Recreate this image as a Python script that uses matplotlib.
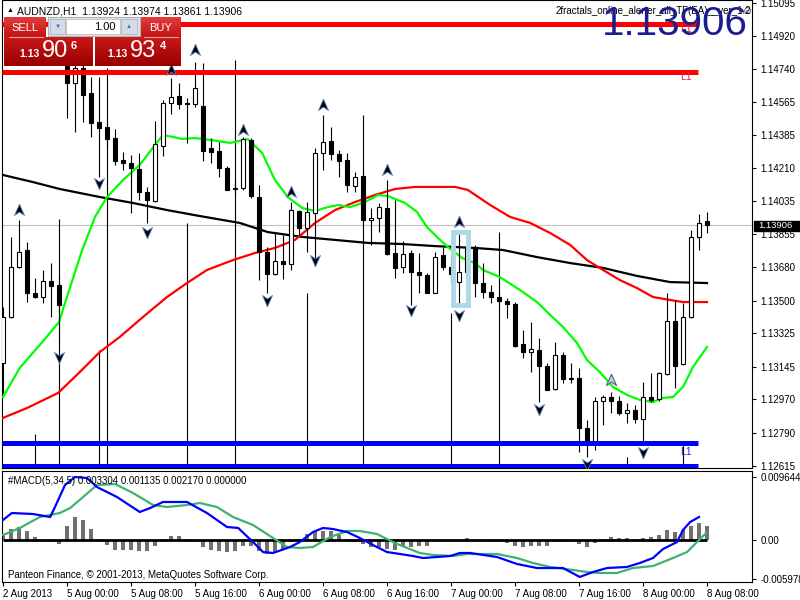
import numpy as np
import matplotlib
matplotlib.use("Agg")
import matplotlib.pyplot as plt
from matplotlib.patches import Rectangle
from matplotlib.path import Path
from matplotlib.colors import LinearSegmentedColormap

plt.rcParams['font.family'] = ['Liberation Sans', 'DejaVu Sans']

# AUDNZD H1, bars from 2 Aug 2013 16:00 to 8 Aug 08:00
opens = [1.13165, 1.13412, 1.13680, 1.13771, 1.13541, 1.13519, 1.13605, 1.13583, 1.14757, 1.14666,
         1.14747, 1.14613, 1.14457, 1.14430, 1.14371, 1.14253, 1.14237, 1.14205, 1.14082, 1.14034,
         1.14328, 1.14559, 1.14596, 1.14559, 1.14554, 1.14543, 1.14318, 1.14302, 1.14211, 1.14103,
         1.14103, 1.14361, 1.14055, 1.13760, 1.13642, 1.13712, 1.13696, 1.13980, 1.13889, 1.13969,
         1.14291, 1.14355, 1.14286, 1.14253, 1.14114, 1.14168, 1.13932, 1.13943, 1.13996, 1.13755,
         1.13680, 1.13755, 1.13653, 1.13637, 1.13541, 1.13744, 1.13680, 1.13599, 1.13653, 1.13787,
         1.13594, 1.13546, 1.13519, 1.13498, 1.13482, 1.13267, 1.13224, 1.13235, 1.13149, 1.13026,
         1.13208, 1.13085, 1.13085, 1.12817, 1.12742, 1.12962, 1.12983, 1.12962, 1.12897, 1.12913,
         1.12865, 1.12983, 1.12972, 1.13106, 1.13390, 1.13160, 1.13412, 1.13841, 1.13924]
highs = [1.13465, 1.13841, 1.13932, 1.13814, 1.13621, 1.13664, 1.13701, 1.13637, 1.14789, 1.14800,
         1.14779, 1.14698, 1.14698, 1.14468, 1.14420, 1.14296, 1.14280, 1.14291, 1.14109, 1.14462,
         1.14575, 1.14693, 1.14666, 1.14586, 1.14779, 1.14773, 1.14371, 1.14350, 1.14221, 1.14146,
         1.14377, 1.14371, 1.14119, 1.13787, 1.13862, 1.13851, 1.14028, 1.13985, 1.14028, 1.14318,
         1.14495, 1.14430, 1.14307, 1.14291, 1.14189, 1.14200, 1.13996, 1.14023, 1.14146, 1.14039,
         1.13819, 1.13771, 1.13755, 1.13648, 1.13760, 1.13787, 1.13744, 1.13857, 1.13846, 1.13798,
         1.13701, 1.13583, 1.13557, 1.13514, 1.13492, 1.13342, 1.13385, 1.13299, 1.13165, 1.13278,
         1.13224, 1.13165, 1.13139, 1.12860, 1.12983, 1.12994, 1.13010, 1.12988, 1.12951, 1.12940,
         1.13063, 1.13112, 1.13117, 1.13541, 1.13503, 1.13487, 1.13878, 1.13964, 1.13974]
lows = [1.13005, 1.13407, 1.13675, 1.13492, 1.13514, 1.13487, 1.13412, 1.13262, 1.14479, 1.14403,
        1.14457, 1.14377, 1.14162, 1.14318, 1.14227, 1.14200, 1.13969, 1.14039, 1.13916, 1.14028,
        1.14275, 1.14500, 1.14527, 1.14345, 1.14537, 1.14248, 1.14237, 1.14162, 1.14093, 1.14066,
        1.14093, 1.14050, 1.13610, 1.13541, 1.13637, 1.13616, 1.13664, 1.13851, 1.13760, 1.13707,
        1.14200, 1.14253, 1.14162, 1.14082, 1.14082, 1.13905, 1.13798, 1.13867, 1.13744, 1.13621,
        1.13648, 1.13476, 1.13541, 1.13541, 1.13541, 1.13664, 1.13599, 1.13476, 1.13610, 1.13519,
        1.13514, 1.13487, 1.13476, 1.13407, 1.13251, 1.13192, 1.13117, 1.12956, 1.13021, 1.13021,
        1.13058, 1.13058, 1.12688, 1.12661, 1.12699, 1.12833, 1.12897, 1.12887, 1.12844, 1.12844,
        1.12726, 1.12956, 1.12962, 1.13101, 1.13031, 1.13155, 1.13407, 1.13771, 1.13861]
closes = [1.13412, 1.13680, 1.13760, 1.13541, 1.13519, 1.13605, 1.13578, 1.13476, 1.14666, 1.14747,
          1.14602, 1.14452, 1.14425, 1.14366, 1.14248, 1.14237, 1.14211, 1.14082, 1.14039, 1.14339,
          1.14559, 1.14591, 1.14554, 1.14554, 1.14639, 1.14302, 1.14296, 1.14211, 1.14093, 1.14098,
          1.14366, 1.14060, 1.13760, 1.13642, 1.13712, 1.13696, 1.13985, 1.13889, 1.13975, 1.14291,
          1.14350, 1.14286, 1.14248, 1.14119, 1.14162, 1.13932, 1.13943, 1.14001, 1.13750, 1.13675,
          1.13750, 1.13653, 1.13637, 1.13541, 1.13733, 1.13680, 1.13642, 1.13653, 1.13782, 1.13594,
          1.13546, 1.13519, 1.13498, 1.13482, 1.13256, 1.13224, 1.13240, 1.13149, 1.13021, 1.13208,
          1.13080, 1.13080, 1.12817, 1.12742, 1.12962, 1.12983, 1.12962, 1.12897, 1.12913, 1.12865,
          1.12983, 1.12967, 1.13112, 1.13390, 1.13149, 1.13412, 1.13841, 1.13916, 1.13906]

# moving averages (bar position, price)
ma_fast_x = [0, 2.1, 4.6, 7, 8.4, 9.9, 11.5, 13, 15, 17.1, 19, 20, 21.25, 22.4, 24, 25.9, 28.4, 30.6,
             32.4, 34, 35.6, 37.4, 39, 40.6, 41.9, 43.4, 45.25, 46.9, 48.1, 50.25, 51.75, 53, 54.4,
             55.6, 57.4, 59, 60, 62.1, 64.6, 66.75, 68.4, 70, 71.75, 73, 74.6, 76.25, 78, 79.6,
             81.25, 82.5, 83.75, 85, 86.25, 88]
ma_fast = [1.12983, 1.13139, 1.13262, 1.13385, 1.13573, 1.13771, 1.13948, 1.14055, 1.14146, 1.14227,
           1.14334, 1.14387, 1.14377, 1.14366, 1.14371, 1.14361, 1.14345, 1.14366, 1.14291, 1.14146,
           1.14055, 1.13996, 1.13980, 1.14001, 1.14012, 1.14001, 1.14028, 1.14066, 1.14060, 1.14023,
           1.13975, 1.13894, 1.13835, 1.13787, 1.13728, 1.13701, 1.13664, 1.13626, 1.13557, 1.13492,
           1.13423, 1.13358, 1.13273, 1.13181, 1.13117, 1.13037, 1.12994, 1.12967, 1.12956, 1.12978,
           1.12983, 1.13037, 1.13144, 1.13251]
ma_mid_x = [0, 3, 6.9, 9.6, 12.1, 14.6, 17.5, 20.5, 23, 25.5, 28.75, 31.5, 34, 36.5, 39, 41.5, 44,
            46.5, 49, 51.5, 54, 56.5, 58.1, 60.9, 63.4, 65.9, 68.4, 70.9, 73, 75, 77.1, 79.25,
            81.25, 83.4, 85, 88]
ma_mid = [1.12871, 1.12924, 1.13005, 1.13117, 1.13224, 1.13305, 1.13412, 1.13519, 1.13594, 1.13664,
          1.13717, 1.13755, 1.13782, 1.13825, 1.13916, 1.13985, 1.14028, 1.14066, 1.14098, 1.14109,
          1.14109, 1.14109, 1.14093, 1.14012, 1.13948, 1.13916, 1.13862, 1.13798, 1.13717, 1.13664,
          1.13610, 1.13567, 1.13519, 1.13503, 1.13492, 1.13492]
ma_slow_x = [0, 3.75, 7.1, 12.1, 16.25, 20.5, 24.6, 29.6, 33.1, 37.4, 41.5, 45.6, 49.9, 54, 59,
             62.5, 66.75, 70.9, 75, 79.25, 83.4, 88]
ma_slow = [1.14173, 1.14135, 1.14098, 1.14055, 1.14023, 1.13985, 1.13953, 1.13916, 1.13867, 1.13841,
           1.13825, 1.13809, 1.13803, 1.13792, 1.13782, 1.13771, 1.13733, 1.13701, 1.13675, 1.13632,
           1.13599, 1.13594]

# fractals
up_bars = [2, 21, 24, 30, 36, 40, 48, 57]
up_prices = [1.13985, 1.14736, 1.14843, 1.14414, 1.14082, 1.14548, 1.14200, 1.13921]
up_open_bars = [76]
up_open_prices = [1.13074]
down_bars = [7, 12, 18, 33, 39, 51, 57, 67, 73, 80]
down_prices = [1.13198, 1.14130, 1.13867, 1.13503, 1.13717, 1.13449, 1.13423, 1.12919, 1.12624, 1.12688]

# thin vertical lines drawn by the EA
vline_bars = [4, 7, 12, 13, 23, 29, 38, 45, 56, 62, 78, 85]
vline_tops = [1.12785, 1.13937, 1.13235, 1.14747, 1.13916, 1.14789, 1.13541, 1.14495, 1.13433,
              1.13867, 1.12661, 1.12726]

# levels
red_levels = [1.14982, 1.14725]
blue_levels = [1.12737, 1.12613]
bid = 1.13906
box_bars = (56.2, 58.1)
box_prices = (1.13474, 1.13865)

price_ticks = [1.15095, 1.14920, 1.14740, 1.14565, 1.14385, 1.14210, 1.14035, 1.13855, 1.13680,
               1.13500, 1.13325, 1.13145, 1.12970, 1.12790, 1.12615]

# MACD(5,34,5)
macd_hist = [0.00081, 0.00168, 0.00204, 0.00133, 0.00041, 0.0, -0.00035, -0.00061, 0.00219, 0.00357,
             0.00311, 0.00173, 0.00015, -0.00077, -0.00149, -0.00153, -0.00153, -0.00164, -0.00173, -0.00096,
             0.00015, 0.00066, 0.00061, 0.00015, 0.0, -0.00103, -0.00149, -0.00173, -0.00179, -0.00164,
             -0.00087, -0.00087, -0.00164, -0.00214, -0.00188, -0.00138, -0.00035, 0.00015, 0.00092, 0.00142,
             0.00133, 0.00133, 0.00081, 0.00015, -0.00035, -0.00061, -0.00103, -0.00103, -0.00138, -0.00153,
             -0.00087, -0.00112, -0.00087, -0.00087, -0.00008, 0.0, 0.0, 0.0, 0.00031, 0.0,
             0.0, -0.00035, -0.00035, -0.00051, -0.00087, -0.00103, -0.00087, -0.00087, -0.00087, -0.00035,
             -0.00026, 0.0, -0.00061, -0.00103, -0.00046, 0.00015, 0.00051, 0.00031, 0.00031, 0.00015,
             0.00031, 0.00051, 0.00081, 0.00153, 0.00118, 0.00153, 0.00219, 0.00256, 0.00219]
macd_x = [0, 1.1, 3.75, 5.9, 6.5, 7.75, 9, 10.5, 11.75, 14.25, 17.1, 18.4, 20, 23, 25.5, 28, 29.4,
          31.25, 32.5, 33.75, 35.9, 37.1, 38.75, 40, 41.25, 43, 44.6, 46.25, 48, 49.6, 51.25, 52.5,
          55.9, 57.1, 58.4, 61.75, 64.25, 66.75, 70, 72.1, 73.75, 75.5, 78, 79.6, 81.25, 82.5,
          84.25, 85, 85.9, 87]
macd_main = [0.00306, 0.00413, 0.00398, 0.00352, 0.00505, 0.00842, 0.00965, 0.00949, 0.00811, 0.00658,
             0.00429, 0.00490, 0.00582, 0.00582, 0.00413, 0.00199, 0.00184, -0.00031, -0.00184, -0.00199,
             -0.00107, -0.00031, 0.00122, 0.00184, 0.00168, 0.00122, 0.00031, -0.00077, -0.00184, -0.00214,
             -0.00245, -0.00276, -0.00245, -0.00199, -0.00199, -0.00260, -0.00367, -0.00429, -0.00429,
             -0.00566, -0.00490, -0.00429, -0.00413, -0.00352, -0.00276, -0.00138, -0.00031, 0.00153,
             0.00276, 0.00352]
signal_x = [0, 2.1, 4.6, 7.1, 8.4, 10, 11.75, 14, 16.25, 18.75, 20.5, 23, 24.6, 26.75, 28.75, 31.25,
            33.75, 35.5, 37.1, 38.75, 40.9, 43, 44.6, 46.75, 48.75, 49.6, 52.1, 53.75, 56.25, 58,
            61.75, 64.25, 66.25, 68.4, 71.25, 73, 74.6, 76.75, 78.75, 81.25, 83.75, 85.5, 86.75, 87.9]
macd_signal = [0.00077, 0.00184, 0.00352, 0.00413, 0.00490, 0.00658, 0.00842, 0.00857, 0.00720, 0.00536,
               0.00505, 0.00536, 0.00566, 0.00505, 0.00352, 0.00230, 0.00031, -0.00107, -0.00122, -0.00107,
               0.00046, 0.00138, 0.00138, 0.00092, -0.00031, -0.00077, -0.00199, -0.00230, -0.00245, -0.00214,
               -0.00214, -0.00276, -0.00352, -0.00413, -0.00459, -0.00490, -0.00505, -0.00505, -0.00429,
               -0.00398, -0.00276, -0.00184, -0.00031, 0.00107]
macd_ticks = [0.009644, 0.0, -0.005978]
macd_tick_labels = ['0.009644', '0.00', '-0.005978']

time_labels = ['2 Aug 2013', '5 Aug 00:00', '5 Aug 08:00', '5 Aug 16:00', '6 Aug 00:00', '6 Aug 08:00',
               '6 Aug 16:00', '7 Aug 00:00', '7 Aug 08:00', '7 Aug 16:00', '8 Aug 00:00', '8 Aug 08:00']


W, H = 800, 600
fig = plt.figure(figsize=(8, 6), dpi=100)


def px_axes(x0, y0, x1, y1, **kw):
    return fig.add_axes([x0 / W, 1 - y1 / H, (x1 - x0) / W, (y1 - y0) / H], **kw)


ax = px_axes(2, 0, 752, 468)
am = px_axes(2, 471, 752, 582)
xlim = (-0.125, 93.625)
ylo, yhi = 1.126025, 1.15111

for a in (ax, am):
    a.set_xlim(*xlim)
    for s in a.spines.values():
        s.set_linewidth(0.8)
    a.yaxis.tick_right()
    a.tick_params(axis='y', length=3, width=0.8, labelsize=7, pad=3)

# --- main chart ---
ax.set_ylim(ylo, yhi)
ax.set_yticks(price_ticks)
ax.set_yticklabels(['%.5f' % p for p in price_ticks])
ax.set_xticks([])

n = len(opens)
idx = np.arange(n)
o, h, l, c = (np.array(v) for v in (opens, highs, lows, closes))

ax.axhline(bid, color='#c0c0c0', lw=0.8, zorder=1)
ax.vlines(vline_bars, ylo, vline_tops, color='black', lw=0.8, zorder=2)
ax.plot(ma_slow_x, ma_slow, color='black', lw=1.6, zorder=3)
ax.plot(ma_mid_x, ma_mid, color='#ff0000', lw=1.6, zorder=3)
ax.plot(ma_fast_x, ma_fast, color='#00ff00', lw=1.6, zorder=3)

ax.vlines(idx, l, h, color='black', lw=0.8, zorder=4)
bull = c >= o
ax.bar(idx[bull], np.abs(c - o)[bull], bottom=np.minimum(o, c)[bull], width=0.6,
       color='white', edgecolor='black', lw=0.8, zorder=5)
ax.bar(idx[~bull], np.abs(c - o)[~bull], bottom=np.minimum(o, c)[~bull], width=0.6,
       color='black', edgecolor='black', lw=0.8, zorder=5)

ax.hlines(red_levels, -0.1, 86.9, color='#ff0000', lw=3.6, zorder=6)
ax.hlines(blue_levels, -0.1, 86.9, color='#0000ff', lw=3.6, zorder=6)
ax.add_patch(Rectangle((box_bars[0], box_prices[0]), box_bars[1] - box_bars[0],
                       box_prices[1] - box_prices[0], fill=False, ec='#add8e6', lw=3.5, zorder=7))

ax.text(84.6, 1.14956, 'L1', color='#e8203c', fontsize=7.5, va='center', zorder=6)
ax.text(84.6, 1.14698, 'L1', color='#e8203c', fontsize=7.5, va='center', zorder=6)
ax.text(84.6, 1.12688, 'L1', color='#2020ff', fontsize=7.5, va='center', zorder=6)

up_path = Path([(0, 1), (0.8, -0.8), (0, -0.25), (-0.8, -0.8), (0, 1)],
               [Path.MOVETO, Path.LINETO, Path.LINETO, Path.LINETO, Path.CLOSEPOLY])
down_path = Path([(0, -1), (0.8, 0.8), (0, 0.25), (-0.8, 0.8), (0, -1)],
                 [Path.MOVETO, Path.LINETO, Path.LINETO, Path.LINETO, Path.CLOSEPOLY])
ax.plot(up_bars, up_prices, ls='none', marker=up_path, ms=9, mfc='black', mec='#5a7fc0',
        mew=0.6, zorder=8)
ax.plot(up_open_bars, up_open_prices, ls='none', marker=up_path, ms=9, mfc='#c8d0e0',
        mec='#506070', mew=0.8, zorder=8)
ax.plot(down_bars, down_prices, ls='none', marker=down_path, ms=9, mfc='black', mec='#5a7fc0',
        mew=0.6, zorder=8)

# --- MACD window ---
am.set_ylim(-0.00643, 0.010564)
am.set_yticks(macd_ticks)
am.set_yticklabels(macd_tick_labels)
am.bar(idx, macd_hist, width=0.4, color='#707070', zorder=2)
am.hlines(0, 0, 88, color='black', lw=2, zorder=3)
am.plot(signal_x, macd_signal, color='#3cb371', lw=1.6, zorder=4)
am.plot(macd_x, macd_main, color='#0000ff', lw=1.6, zorder=5)
am.set_xticks(idx[::8])
am.set_xticklabels(time_labels)
am.tick_params(axis='x', length=3, width=0.8, labelsize=7, pad=2)
for lbl in am.get_xticklabels():
    lbl.set_ha('left')

# --- overlay: texts and trade panel in pixel coordinates ---
ov = fig.add_axes([0, 0, 1, 1], zorder=10)
ov.patch.set_alpha(0)
ov.axis('off')


def grad_box(x0, y0, x1, y1, top, bottom):
    cm = LinearSegmentedColormap.from_list('g', [top, bottom])
    ov.imshow(np.linspace(0, 1, 32)[:, None], cmap=cm, aspect='auto',
              extent=(x0, x1, y1, y0), zorder=11, interpolation='bilinear')


ov.text(7, 11, '▲', fontsize=5, va='center')
ov.text(17, 11, 'AUDNZD,H1  1.13924 1.13974 1.13861 1.13906', fontsize=7.5, va='center')
ov.text(556, 11, '2fractals_online_alerter_all_TF(EA)__ver_1.2', fontsize=7, va='center')
ov.text(742, 11, '☺', fontsize=8, va='center')
ov.text(748, 24, '1.13906', fontsize=29, color='#1c1c8c', ha='right', va='center', zorder=12)

ov.add_patch(Rectangle((754, 221), 46, 9.5, color='black', zorder=12))
ov.text(758, 225.8, '1.13906', color='white', fontsize=6.8, va='center', zorder=13)

ov.text(8, 481, '#MACD(5,34,5) 0.003304 0.001135 0.002170 0.000000', fontsize=7, va='center')
ov.text(8, 575, 'Panteon Finance, © 2001-2013, MetaQuotes Software Corp.', fontsize=7, va='center')

# trade panel
grad_box(4, 17, 46, 37, '#e23c3c', '#c41414')
grad_box(4, 37, 93, 66, '#c81818', '#9a0000')
grad_box(141, 17, 181, 37, '#e23c3c', '#c41414')
grad_box(95, 37, 181, 66, '#c81818', '#9a0000')
ov.plot([9, 43], [37, 37], color='#f0a0a0', lw=0.8, zorder=12)
ov.plot([144, 178], [37, 37], color='#f0a0a0', lw=0.8, zorder=12)
ov.add_patch(Rectangle((48, 17), 92, 19, fc='#e4e4e4', ec='#b0b0b0', lw=0.8, zorder=11))
ov.add_patch(Rectangle((50, 19), 15, 15, fc='#d4dcea', ec='#a8b4c8', lw=0.6, zorder=12))
ov.add_patch(Rectangle((66, 19), 54, 15, fc='white', ec='#c0c0c0', lw=0.6, zorder=12))
ov.add_patch(Rectangle((121, 19), 16, 15, fc='#d4dcea', ec='#a8b4c8', lw=0.6, zorder=12))
ov.text(57.5, 26.5, '▼', fontsize=4.5, color='#4a6a9a', ha='center', va='center', zorder=13)
ov.text(129, 26.5, '▲', fontsize=4.5, color='#4a6a9a', ha='center', va='center', zorder=13)
ov.text(116, 27, '1.00', fontsize=8, ha='right', va='center', zorder=13)
ov.text(25, 28, 'SELL', fontsize=8, color='white', ha='center', va='center', zorder=13)
ov.text(161, 28, 'BUY', fontsize=8, color='white', ha='center', va='center', zorder=13)
for x_small, x_big, x_sup, big, sup in [(19, 42, 71, '90', '6'), (107, 130, 160, '93', '4')]:
    ov.text(x_small, 57, '1.13', fontsize=7.5, color='white', weight='bold', va='baseline', zorder=13)
    ov.text(x_big, 57, big, fontsize=17, color='white', va='baseline', zorder=13)
    ov.text(x_sup, 49, sup, fontsize=8, color='white', weight='bold', va='baseline', zorder=13)

ov.set_xlim(0, W)
ov.set_ylim(H, 0)

fig.savefig('out.png', dpi=100)
